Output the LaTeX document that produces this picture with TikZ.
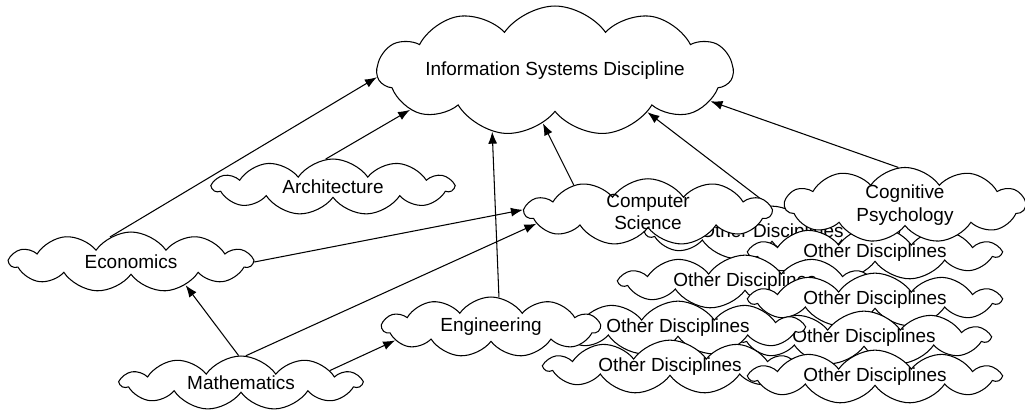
\documentclass[tikz,border=0pt]{standalone}
\usepackage{fontspec}
\setmainfont{Liberation Sans}
\usetikzlibrary{shapes.symbols, arrows.meta}
\pgfdeclarelayer{background}
\pgfsetlayers{background,main}

\begin{document}
\begin{tikzpicture}[x=0.02cm, y=-0.02cm, >={Latex[length=2.4mm,width=1.8mm]}, font=\fontsize{10.8}{13}\selectfont]
\tikzstyle{disc} = [draw, cloud, cloud puffs=11, cloud puff arc=110, cloud ignores aspect, fill=white, inner sep=0pt, align=center, line width=0.6pt]
\tikzstyle{other} = [disc, minimum width=5cm, minimum height=1.02cm]
\tikzstyle{link} = [->, line width=0.6pt]

\useasboundingbox (0,0) rectangle (1025,414);

% the clouds at the back go first, so the later ones cover them
\node [other] (oa) at (772,233) {Other Disciplines};
\node [other] (ob) at (875,253) {Other Disciplines};
\node [disc, minimum width=4.8cm, minimum height=1.32cm] (cogpsy) at (905,205) {Cognitive\\Psychology};
\node [other] (oc) at (745,282) {Other Disciplines};
\node [other] (od) at (875,300) {Other Disciplines};
\node [other] (of) at (864,338) {Other Disciplines};
\node [other] (oe) at (678,328) {Other Disciplines};
\node [disc, minimum width=4.34cm, minimum height=1.2cm] (engineering) at (491,327) {Engineering};
\node [other] (og) at (670,367) {Other Disciplines};
\node [other] (oh) at (875,377) {Other Disciplines};
\node [disc, minimum width=4.92cm, minimum height=1.26cm] (compsci) at (648,212) {Computer\\Science};

\node [disc, minimum width=6.5cm, minimum height=2.6cm] (isd) at (555,71) {Information Systems Discipline};
\node [disc, minimum width=4.8cm, minimum height=1.12cm] (architecture) at (333,187) {Architecture};
\node [disc, minimum width=4.84cm, minimum height=1.2cm] (economics) at (131,262) {Economics};
\node [disc, minimum width=4.8cm, minimum height=1.08cm] (mathematics) at (241,383) {Mathematics};

% arrows sit behind the clouds
\begin{pgfonlayer}{background}
\draw [link] (economics.130) -- (isd.182);
\draw [link] (architecture.105) -- (isd.195);
\draw [link] (economics.east) -- (compsci.179);
\draw [link] (mathematics.95) -- (economics.337);
\draw [link] (mathematics.80) -- (compsci.186);
\draw [link] (mathematics.8) -- (engineering.188);
\draw [link] (engineering.75) -- (isd.224);
\draw [link] (compsci.160) -- (isd.257);
\draw [link] (oa.95) -- (isd.336);
\draw [link] (cogpsy.100) -- (isd.349);
\end{pgfonlayer}

\end{tikzpicture}
\end{document}
